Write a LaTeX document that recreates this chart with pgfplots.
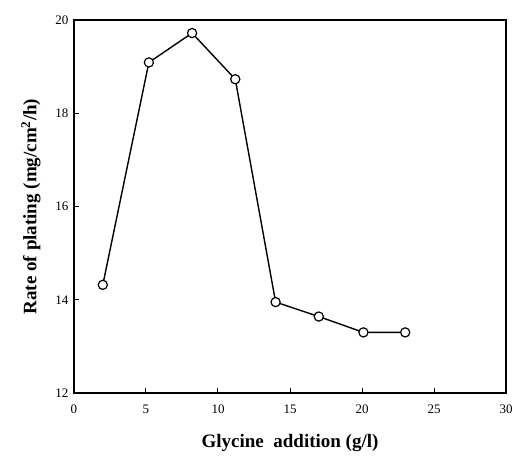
\documentclass[border=0pt]{standalone}
\usepackage{pgfplots}
\pgfplotsset{compat=1.18}
\usepackage{fontspec}
\setmainfont{Liberation Serif}
\begin{document}
\begin{tikzpicture}
\useasboundingbox (-74pt,-66pt) rectangle (442pt,393pt);
\begin{axis}[
  at={(0,0)}, anchor=south west,
  scale only axis,
  width=432pt, height=373pt,
  xmin=0, xmax=30, ymin=12, ymax=20,
  xtick={0,5,10,15,20,25,30},
  ytick={12,14,16,18,20},
  tick pos=left,
  tick align=inside,
  major tick length=5pt,
  axis line style={line width=1.3pt},
  tick style={line width=1pt, black},
  /pgf/number format/assume math mode=true,
  tick label style={font=\fontsize{13}{15}\selectfont},
  xticklabel style={yshift=-8pt},
  yticklabel style={xshift=-2pt},
  xlabel={\textbf{Glycine\ \ addition (g/l)}},
  ylabel={\textbf{Rate of plating (mg/cm$^{\mathbf{2}}$/h)}},
  label style={font=\fontsize{19}{22}\selectfont},
  xlabel style={yshift=-14pt},
  ylabel style={yshift=8pt},
]
\addplot[black, line width=1.4pt, mark=*, mark size=4.6pt, mark options={fill=white, draw=black, line width=1.2pt}]
coordinates {(2,14.32) (5.2,19.09) (8.2,19.72) (11.2,18.73) (14,13.95) (17,13.64) (20.1,13.3) (23,13.3)};
\end{axis}
\end{tikzpicture}
\end{document}
